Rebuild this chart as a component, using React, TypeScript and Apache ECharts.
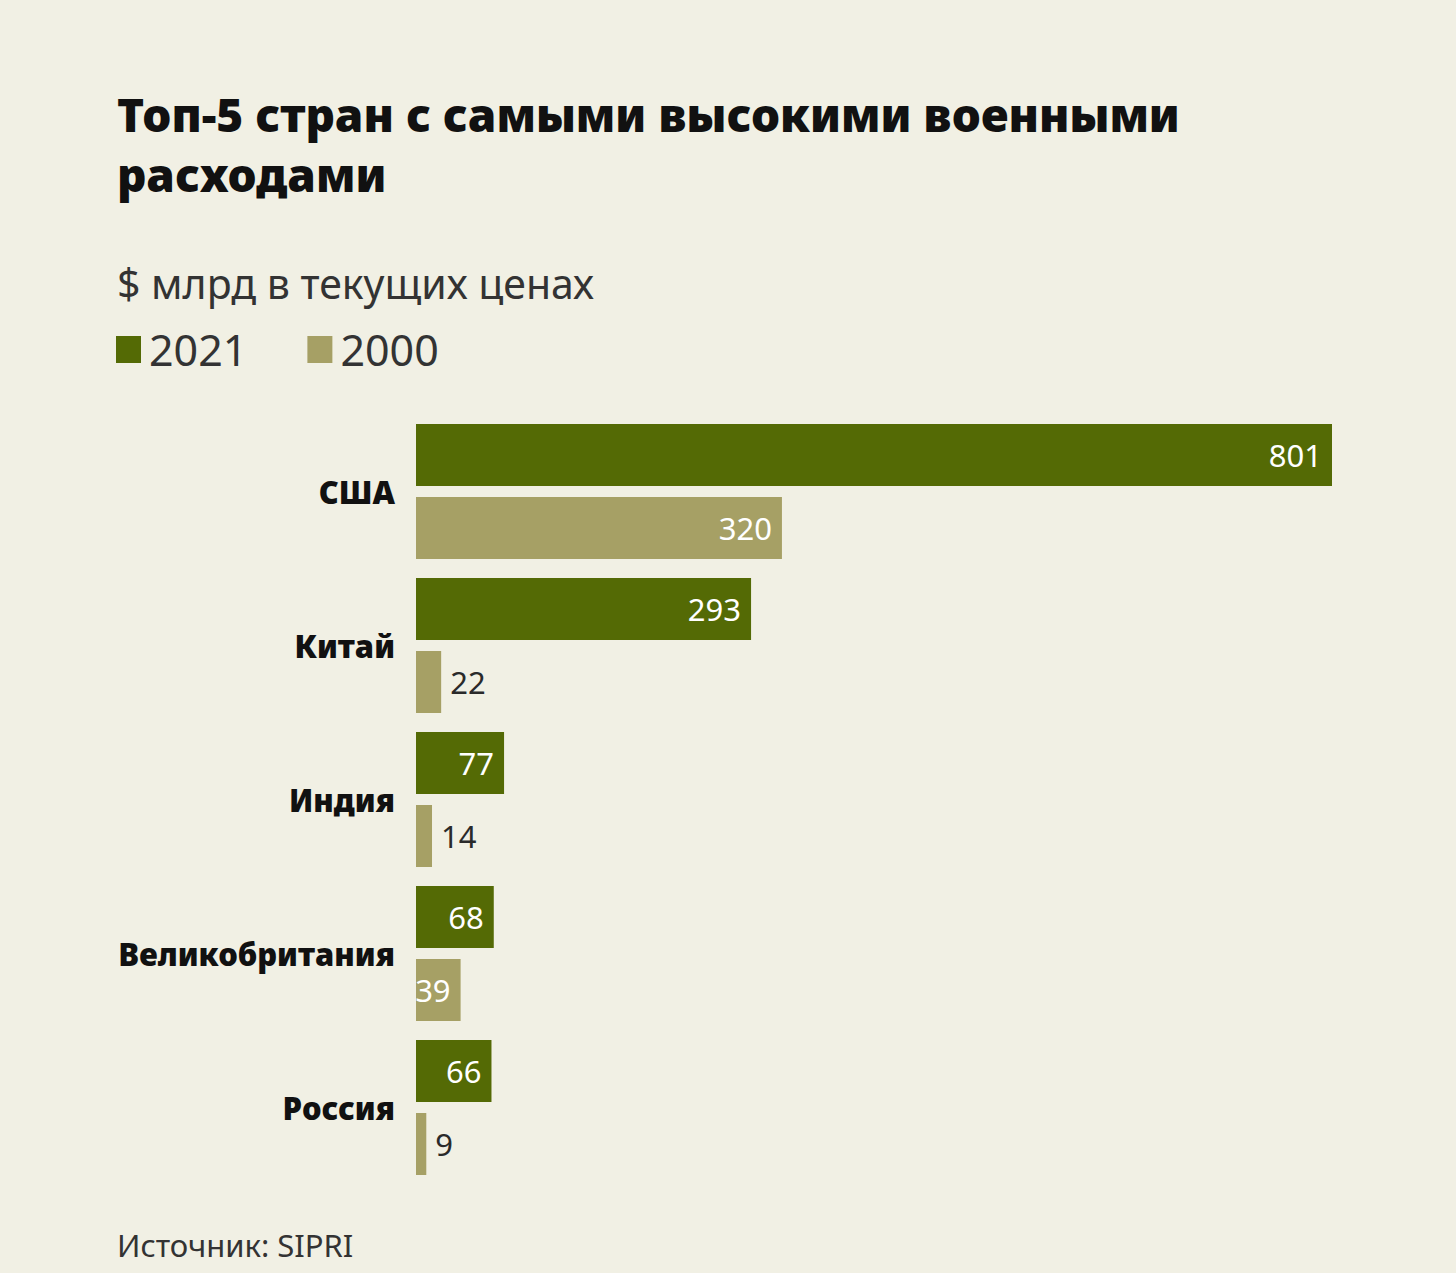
import React, { useEffect, useRef } from "react";
import * as echarts from "echarts";

const countries = ["США", "Китай", "Индия", "Великобритания", "Россия"];
const values2021 = [801, 293, 77, 68, 66];
const values2000 = [320, 22, 14, 39, 9];
const seriesNames = ["2021", "2000"];
const titleText = "Топ-5 стран с самыми высокими военными\nрасходами";
const subtitleText = "$ млрд в текущих ценах";
const sourceText = "Источник: SIPRI";

const GREEN = "#546a05";
const TAN = "#a6a065";
const BG = "#f1f0e4";
const FONT = "'Noto Sans', sans-serif";

export default function App() {
  const ref = useRef<HTMLDivElement>(null);
  useEffect(() => {
    document.body.style.margin = "0";
    const chart = echarts.init(ref.current!, null, { renderer: "svg" });
    const insideThreshold = 30;
    const mkData = (vals: number[]) =>
      vals.map((v) => ({
        value: v,
        label:
          v < insideThreshold
            ? { position: "right", color: "#2a2a2a", distance: 9 }
            : { position: "insideRight", color: "#ffffff", distance: 10 },
      }));
    chart.setOption({
      animation: false,
      backgroundColor: BG,
      textStyle: { fontFamily: FONT },
      title: [
        {
          text: titleText,
          left: 117,
          top: 84,
          padding: 0,
          textStyle: {
            fontFamily: FONT,
            fontSize: 46,
            fontWeight: 900,
            color: "#111111",
            lineHeight: 60,
          },
        },
        {
          text: subtitleText,
          left: 117,
          top: 259,
          padding: 0,
          textStyle: { fontFamily: FONT, fontSize: 41, fontWeight: "normal", color: "#333333", lineHeight: 48 },
        },
        {
          text: sourceText,
          left: 117,
          top: 1227,
          padding: 0,
          textStyle: { fontFamily: FONT, fontSize: 31, fontWeight: "normal", color: "#333333", lineHeight: 36 },
        },
      ],
      legend: {
        left: 116,
        top: 328,
        padding: 0,
        icon: "rect",
        itemWidth: 25,
        itemHeight: 27,
        itemGap: 60,
        textStyle: { fontFamily: FONT, fontSize: 43, color: "#333333", lineHeight: 30, padding: [0, 0, 0, 3] },
        data: seriesNames,
      },
      grid: { left: 416, right: 124, top: 414.5, bottom: 1273 - 1184.5, containLabel: false },
      xAxis: {
        type: "value",
        min: 0,
        max: 801,
        show: false,
      },
      yAxis: {
        type: "category",
        data: countries,
        inverse: true,
        axisLine: { show: false },
        axisTick: { show: false },
        splitLine: { show: false },
        axisLabel: {
          fontFamily: FONT,
          fontSize: 31,
          fontWeight: 900,
          color: "#111111",
          margin: 21,
        },
      },
      series: [
        {
          name: seriesNames[0],
          type: "bar",
          barWidth: 62,
          barGap: "17.7%",
          itemStyle: { color: GREEN },
          label: { show: true, fontFamily: FONT, fontSize: 31 },
          data: mkData(values2021),
        },
        {
          name: seriesNames[1],
          type: "bar",
          barWidth: 62,
          barGap: "17.7%",
          itemStyle: { color: TAN },
          label: { show: true, fontFamily: FONT, fontSize: 31 },
          data: mkData(values2000),
        },
      ],
    });
    return () => chart.dispose();
  }, []);
  return <div ref={ref} style={{ width: 1456, height: 1273, background: BG }} />;
}
